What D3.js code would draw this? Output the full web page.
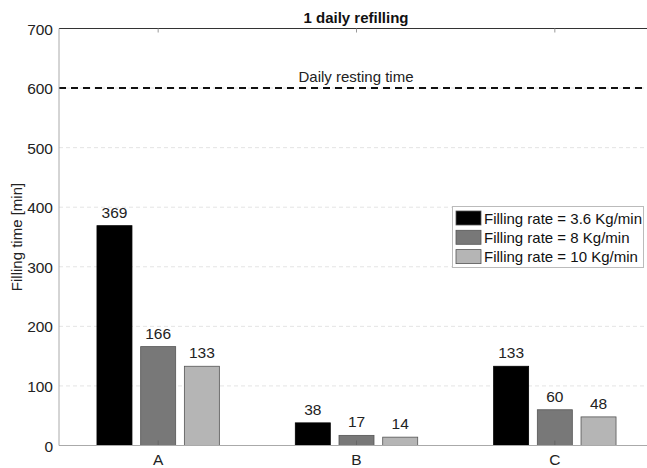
<!DOCTYPE html>
<html><head><meta charset="utf-8">
<script src="https://cdn.jsdelivr.net/npm/d3@7"></script>
<style>body{margin:0;background:#fff;overflow:hidden}svg{display:block;font-family:"Liberation Sans",Arial,sans-serif}</style>
</head><body><svg id="c" width="647" height="468"></svg>
<script>
const categories = ["A","B","C"];
const seriesNames = ["Filling rate = 3.6 Kg/min","Filling rate = 8 Kg/min","Filling rate = 10 Kg/min"];
const rate36 = [369, 38, 133];
const rate8 = [166, 17, 60];
const rate10 = [133, 14, 48];
const yTicks = [0,100,200,300,400,500,600,700];
const restingTime = 600;
const colors = ["#000000","#787878","#b5b5b5"];

const svg = d3.select("#c");
const m = {l:59, t:28.5, r:654, b:445.5};
const x = d3.scaleBand().domain(categories).range([m.l, m.r]).paddingInner(0).paddingOuter(0);
const y = d3.scaleLinear().domain([0,700]).range([m.b, m.t]);
const series = [rate36, rate8, rate10];
const pitch = 43.7, bw = 35;

// grid
svg.append("g").selectAll("line").data(yTicks.filter(d=>d>0 && d<700)).join("line")
  .attr("x1", m.l).attr("x2", m.r).attr("y1", d=>y(d)).attr("y2", d=>y(d))
  .attr("stroke","#e4e4e4").attr("stroke-width",1).attr("stroke-dasharray","4,3");

// top border
svg.append("line").attr("x1",m.l).attr("x2",m.r).attr("y1",m.t).attr("y2",m.t).attr("stroke","#333").attr("stroke-width",1);
svg.append("g").selectAll("line").data(categories).join("line")
  .attr("x1",d=>x(d)+x.bandwidth()/2).attr("x2",d=>x(d)+x.bandwidth()/2)
  .attr("y1",m.t).attr("y2",m.t+4).attr("stroke","#999");

// dashed resting line
svg.append("line").attr("x1",m.l).attr("x2",m.r).attr("y1",y(restingTime)).attr("y2",y(restingTime))
  .attr("stroke","#111").attr("stroke-width",2).attr("stroke-dasharray","7,5");
svg.append("text").attr("x",356).attr("y",y(restingTime)-6).attr("text-anchor","middle")
  .attr("font-size",15).attr("fill","#222").text("Daily resting time");

// bars
series.forEach((vals, si) => {
  const g = svg.append("g");
  g.selectAll("rect").data(vals).join("rect")
    .attr("x",(d,i)=>x(categories[i])+x.bandwidth()/2+(si-1)*pitch-bw/2)
    .attr("y",d=>y(d)).attr("width",bw).attr("height",d=>y(0)-y(d))
    .attr("fill",colors[si]).attr("stroke", si==0?"#000":"#555").attr("stroke-width",0.8);
  g.selectAll("text").data(vals).join("text")
    .attr("x",(d,i)=>x(categories[i])+x.bandwidth()/2+(si-1)*pitch)
    .attr("y",d=>y(d)-8).attr("text-anchor","middle").attr("font-size",15.5).attr("fill","#222")
    .text(d=>d);
});

svg.append("g").selectAll("line").data(categories).join("line")
  .attr("x1",d=>x(d)+x.bandwidth()/2).attr("x2",d=>x(d)+x.bandwidth()/2)
  .attr("y1",m.b).attr("y2",m.b-5).attr("stroke","#666");

// axes lines
svg.append("line").attr("x1",m.l).attr("x2",m.r).attr("y1",m.b).attr("y2",m.b).attr("stroke","#aaa");
svg.append("line").attr("x1",m.l).attr("x2",m.l).attr("y1",m.t).attr("y2",m.b).attr("stroke","#aaa");

// y tick labels
svg.append("g").selectAll("text").data(yTicks).join("text")
  .attr("x",m.l-6).attr("y",d=>y(d)+6).attr("text-anchor","end").attr("font-size",15.5).attr("fill","#222")
  .text(d=>d);
// x labels
svg.append("g").selectAll("text").data(categories).join("text")
  .attr("x",d=>x(d)+x.bandwidth()/2).attr("y",464.5).attr("text-anchor","middle").attr("font-size",15.5).attr("fill","#222")
  .text(d=>d);

// y label
svg.append("text").attr("transform","translate(22,237) rotate(-90)").attr("text-anchor","middle")
  .attr("font-size",15).attr("fill","#222").text("Filling time [min]");

// title
svg.append("text").attr("x",356).attr("y",23).attr("text-anchor","middle").attr("font-size",15)
  .attr("font-weight","bold").attr("fill","#111").text("1 daily refilling");

// legend
const lg = svg.append("g");
lg.append("rect").attr("x",452.5).attr("y",206.5).attr("width",191).attr("height",61)
  .attr("fill","#fff").attr("stroke","#bbb");
seriesNames.forEach((n,i)=>{
  lg.append("rect").attr("x",456).attr("y",211+i*19.3).attr("width",25).attr("height",14)
    .attr("fill",colors[i]).attr("stroke","#555").attr("stroke-width",0.8);
  lg.append("text").attr("x",484).attr("y",223.5+i*19.3).attr("font-size",15).attr("fill","#111").text(n);
});
</script></body></html>
